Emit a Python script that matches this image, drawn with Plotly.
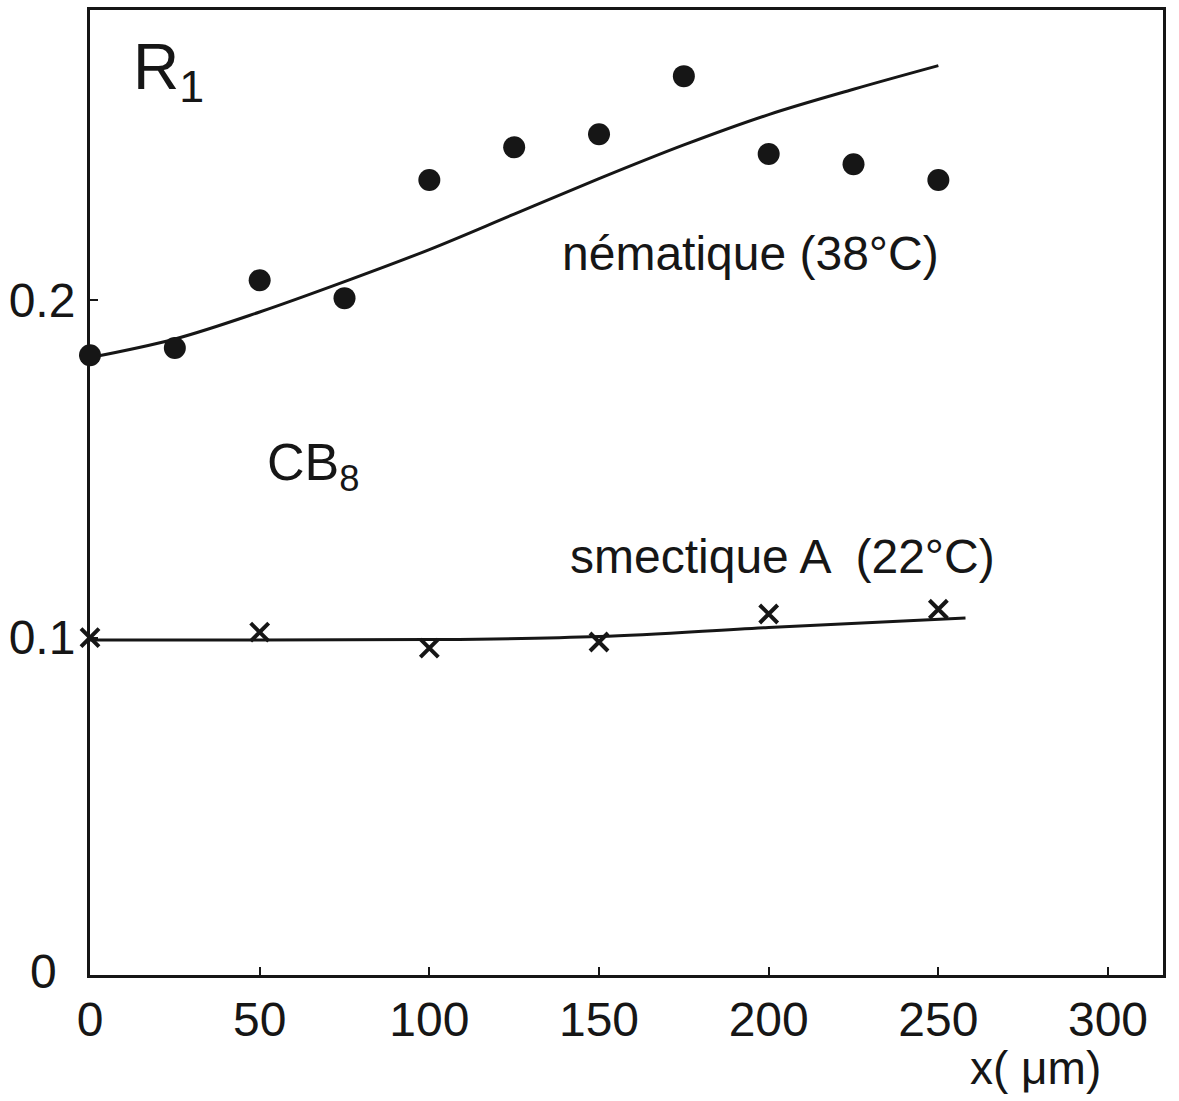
import plotly.graph_objects as go

# Measured R1 values along the cell, CB8
x_nem = [0, 25, 50, 75, 100, 125, 150, 175, 200, 225, 250]
r1_nem = [0.1837, 0.1858, 0.2059, 0.2006, 0.2356, 0.2453, 0.2492, 0.2664, 0.2433, 0.2403, 0.2356]

x_sma = [0, 50, 100, 150, 200, 250]
r1_sma = [0.1000, 0.1016, 0.0969, 0.0987, 0.1070, 0.1084]

# Smooth trend curves drawn by hand through the data
x_nem_fit = [0, 25, 50, 75, 100, 125, 150, 175, 200, 225, 250]
r1_nem_fit = [0.1830, 0.1885, 0.1965, 0.2055, 0.2150, 0.2255, 0.2360, 0.2460, 0.2550, 0.2625, 0.2695]

x_sma_fit = [0, 50, 100, 150, 200, 258]
r1_sma_fit = [0.0993, 0.0993, 0.0994, 0.1003, 0.1030, 0.1058]

x_ticks = [0, 50, 100, 150, 200, 250, 300]
y_ticks = [0.1, 0.2]
y_ticktext = ["0.1", "0.2"]

INK = "#161616"
FONT = "Liberation Sans, Arial, sans-serif"

fig = go.Figure()

fig.add_trace(go.Scatter(
    x=x_nem_fit, y=r1_nem_fit, mode="lines",
    line=dict(color=INK, width=3, shape="spline"), hoverinfo="skip",
))
fig.add_trace(go.Scatter(
    x=x_sma_fit, y=r1_sma_fit, mode="lines",
    line=dict(color=INK, width=3, shape="spline"), hoverinfo="skip",
))
fig.add_trace(go.Scatter(
    x=x_nem, y=r1_nem, mode="markers",
    marker=dict(symbol="circle", size=22, color=INK),
    cliponaxis=False,
))
fig.add_trace(go.Scatter(
    x=x_sma, y=r1_sma, mode="markers",
    marker=dict(symbol="x-thin", size=18, color=INK, line=dict(color=INK, width=4)),
    cliponaxis=False,
))

annotations = [
    dict(x=12.0, y=0.268, xref="x", yref="y", text="R<sub>1</sub>",
         showarrow=False, xanchor="left", yanchor="middle",
         font=dict(size=64, color=INK, family=FONT)),
    dict(x=138.6, y=0.2138, xref="x", yref="y", text="nématique (38°C)",
         showarrow=False, xanchor="left", yanchor="middle",
         font=dict(size=48, color=INK, family=FONT)),
    dict(x=51.6, y=0.1510, xref="x", yref="y", text="CB<sub>8</sub>",
         showarrow=False, xanchor="left", yanchor="middle",
         font=dict(size=52, color=INK, family=FONT)),
    dict(x=140.9, y=0.1240, xref="x", yref="y", text="smectique A  (22°C)",
         showarrow=False, xanchor="left", yanchor="middle",
         font=dict(size=48, color=INK, family=FONT)),
    dict(x=0.881, y=-0.0964, xref="paper", yref="paper", text="x( μm)",
         showarrow=False, xanchor="center", yanchor="middle",
         font=dict(size=46, color=INK, family=FONT)),
    dict(x=-0.0438, y=0.004, xref="paper", yref="paper", text="0",
         showarrow=False, xanchor="center", yanchor="middle",
         font=dict(size=48, color=INK, family=FONT)),
]

fig.update_layout(
    width=1179, height=1101,
    margin=dict(l=90, r=16, t=10, b=126, autoexpand=False),
    paper_bgcolor="white", plot_bgcolor="white",
    showlegend=False,
    annotations=annotations,
    xaxis=dict(
        range=[0, 316.2], tickvals=x_ticks, ticks="inside", ticklen=8,
        tickwidth=2, tickcolor=INK, showgrid=False, zeroline=False,
        showline=True, linecolor=INK, linewidth=3, mirror=True,
        tickfont=dict(size=48, color=INK, family=FONT),
        ticklabelstandoff=0, automargin=False,
    ),
    yaxis=dict(
        range=[0, 0.286], tickvals=y_ticks, ticktext=y_ticktext,
        ticks="inside", ticklen=8, tickwidth=2, tickcolor=INK,
        showgrid=False, zeroline=False,
        showline=True, linecolor=INK, linewidth=3, mirror=True,
        tickfont=dict(size=48, color=INK, family=FONT),
        ticklabelstandoff=2, automargin=False,
    ),
)

fig.write_html("out.html")
